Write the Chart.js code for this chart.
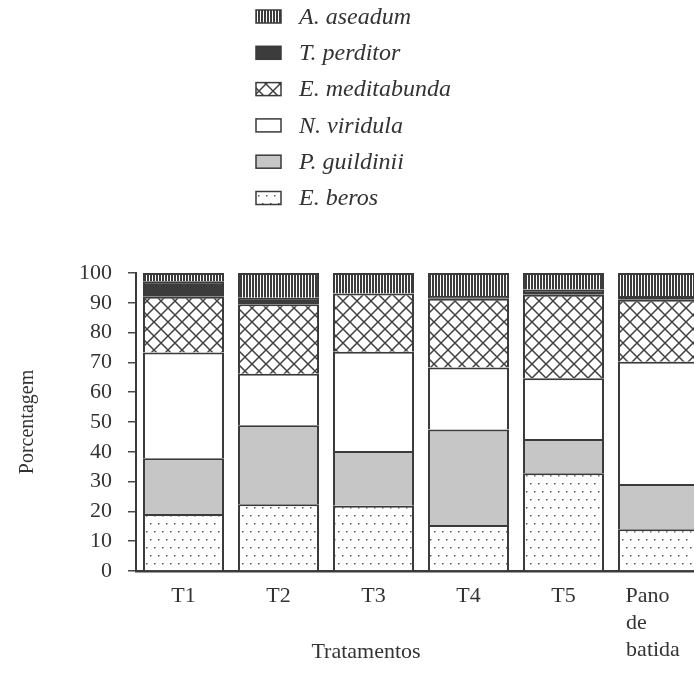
<!DOCTYPE html>
<html>
<head>
<meta charset="utf-8">
<script src="https://cdn.jsdelivr.net/npm/chart.js@4.4.1/dist/chart.umd.min.js"></script>
<style>
  html, body { margin: 0; padding: 0; background: #fff; overflow: hidden; width: 694px; height: 690px; }
  #wrap { width: 694px; height: 690px; overflow: hidden; position: relative; }
  canvas { display: block; }
</style>
</head>
<body>
<div id="wrap"><canvas id="c" width="720" height="690"></canvas></div>
<script>
// ---- data ----
const categories = ['T1', 'T2', 'T3', 'T4', 'T5', ['Pano', 'de', 'batida']];
const seriesNames = ['E. beros', 'P. guildinii', 'N. viridula', 'E. meditabunda', 'T. perditor', 'A. aseadum'];
const eBeros       = [19.1, 22.4, 21.9, 15.4, 32.8, 14.0];
const pGuildinii   = [18.7, 26.5, 18.4, 32.1, 11.5, 15.2];
const nViridula    = [35.5, 17.3, 33.3, 20.8, 20.4, 41.0];
const eMeditabunda = [18.7, 23.3, 19.5, 23.1, 28.0, 20.8];
const tPerditor    = [5.2, 2.2, 0, 0.9, 1.8, 1.3];
const aAseadum     = [2.8, 8.3, 6.9, 7.7, 5.5, 7.7];
const yTicks = [0, 10, 20, 30, 40, 50, 60, 70, 80, 90, 100];
const xTitle = 'Tratamentos';
const yTitle = 'Porcentagem';

// ---- styling helpers ----
const INK = '#3a3a3a';
const TEXT = '#333333';
const SERIF = '"Liberation Serif", "DejaVu Serif", serif';

function makeTile(w, h, draw) {
  const c = document.createElement('canvas');
  c.width = w; c.height = h;
  const x = c.getContext('2d');
  draw(x, w, h);
  return x.createPattern(c, 'repeat');
}
const patStripes = makeTile(3, 4, (x, w, h) => {
  x.fillStyle = '#ffffff'; x.fillRect(0, 0, w, h);
  x.fillStyle = '#3c3c3c'; x.fillRect(0, 0, 2, h);
});
const patHatch = makeTile(14, 14, (x, w, h) => {
  x.fillStyle = '#ffffff'; x.fillRect(0, 0, w, h);
  x.strokeStyle = '#404040'; x.lineWidth = 1.5;
  x.beginPath();
  x.moveTo(-1, -1); x.lineTo(w + 1, h + 1);
  x.moveTo(w + 1, -1); x.lineTo(-1, h + 1);
  x.stroke();
});
const patDots = makeTile(8, 16, (x, w, h) => {
  x.fillStyle = '#ffffff'; x.fillRect(0, 0, w, h);
  x.fillStyle = '#555555';
  x.fillRect(2, 3, 1.5, 1.5);
  x.fillRect(6, 11, 1.5, 1.5);
});
const fills = [patDots, '#c6c6c6', '#ffffff', patHatch, '#3c3c3c', patStripes];
const seriesData = [eBeros, pGuildinii, nViridula, eMeditabunda, tPerditor, aAseadum];

const datasets = seriesNames.map((name, i) => ({
  label: name,
  data: seriesData[i],
  backgroundColor: fills[i],
  borderColor: INK,
  borderWidth: 2,
  borderSkipped: 'bottom',
  categoryPercentage: 1.0,
  barPercentage: 0.853
}));

// measure helper for left-aligning the multi-line category label
const mctx = document.createElement('canvas').getContext('2d');
mctx.font = '22px ' + SERIF;
function padLines(lines) {
  const widths = lines.map(l => mctx.measureText(l).width);
  const target = Math.max(...widths) + 12;
  const sp = mctx.measureText(' ').width;
  return lines.map((l, k) => l + ' '.repeat(Math.max(0, Math.round((target - widths[k]) / sp))));
}

// vertical legend drawn from the datasets (top-most series first)
const stackLegend = {
  id: 'stackLegend',
  afterDraw(chart) {
    const ctx = chart.ctx;
    const ds = chart.data.datasets.slice().reverse();
    ctx.save();
    ds.forEach((d, i) => {
      const cy = 16.5 + i * 36.3;
      const bx = 256, bw = 25, bh = 13;
      ctx.fillStyle = d.backgroundColor;
      ctx.fillRect(bx, cy - bh / 2, bw, bh);
      ctx.strokeStyle = INK; ctx.lineWidth = 1.5;
      ctx.strokeRect(bx, cy - bh / 2, bw, bh);
      ctx.fillStyle = TEXT;
      ctx.font = 'italic 24px ' + SERIF;
      ctx.textBaseline = 'middle';
      ctx.textAlign = 'left';
      ctx.fillText(d.label, 299, cy + 1);
    });
    ctx.restore();
  }
};

new Chart(document.getElementById('c'), {
  type: 'bar',
  data: { labels: categories, datasets },
  plugins: [stackLegend],
  options: {
    responsive: false,
    animation: false,
    devicePixelRatio: 1,
    layout: { padding: { top: 273, left: 12, right: 14, bottom: 0 } },
    plugins: {
      legend: { display: false },
      tooltip: { enabled: false }
    },
    scales: {
      x: {
        stacked: true,
        offset: true,
        grid: { display: false, drawTicks: false, tickLength: 0 },
        border: { display: true, color: INK, width: 2.5 },
        ticks: {
          color: TEXT,
          padding: 12,
          font: { family: SERIF, size: 22, lineHeight: 1.23 },
          maxRotation: 0,
          autoSkip: false,
          callback: function (v) {
            const l = this.getLabelForValue(v);
            return Array.isArray(l) ? padLines(l) : l;
          }
        },
        title: {
          display: true,
          text: xTitle + ' '.repeat(20),
          color: TEXT,
          font: { family: SERIF, size: 22 },
          padding: { top: 0, bottom: 25 }
        },
        afterFit: (s) => { s.height = 119; }
      },
      y: {
        stacked: true,
        min: 0,
        max: 100,
        afterBuildTicks: (s) => { s.ticks = yTicks.map(v => ({ value: v })); },
        grid: { drawOnChartArea: false, drawTicks: true, tickLength: 8, color: '#4a4a4a', lineWidth: 1.5 },
        border: { display: true, color: INK, width: 2 },
        ticks: {
          color: TEXT,
          padding: 16,
          font: { family: SERIF, size: 22 }
        },
        title: {
          display: true,
          text: yTitle,
          color: TEXT,
          font: { family: SERIF, size: 20 },
          padding: { top: 4, bottom: 4 }
        },
        afterFit: (s) => { s.width = 124; }
      }
    }
  }
});
</script>
</body>
</html>
